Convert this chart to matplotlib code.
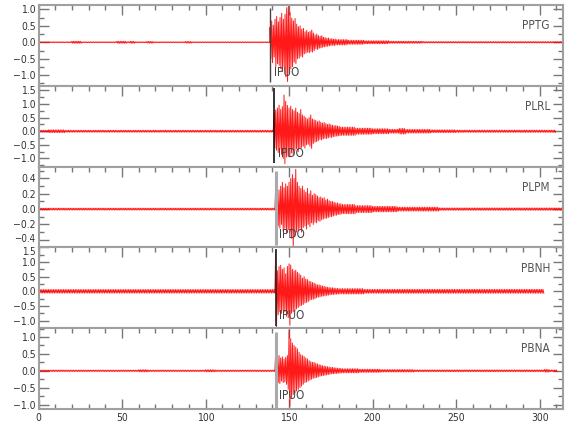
import numpy as np
import matplotlib
matplotlib.use("Agg")
import matplotlib.pyplot as plt
from matplotlib import font_manager
from matplotlib.ticker import MultipleLocator
from matplotlib.transforms import ScaledTranslation

fonts = font_manager.fontManager.ttflist
FAM = "Liberation Sans Narrow" if any(f.name == "Liberation Sans Narrow" for f in fonts) else "DejaVu Sans"
plt.rcParams["font.family"] = [FAM, "DejaVu Sans"]
plt.rcParams["font.stretch"] = "condensed"

# ---------------- data ----------------
stations = ["PPTG", "PLRL", "PLPM", "PBNH", "PBNA"]
pick_labels = ["IPUO", "IPDO", "IPDO", "IPUO", "IPUO"]
pick_times = [138.6, 141.0, 142.0, 142.0, 142.0]

# peak values at 1-s steps after the pick (positive / negative excursions)
ev_hi_pptg = [0.45, 0.65, 0.52, 0.70, 0.78, 0.62, 0.75, 0.88, 0.70, 0.85, 1.05, 1.12, 0.90, 0.73, 0.65, 0.72, 0.55, 0.47, 0.50, 0.40,
              0.42, 0.32, 0.36, 0.30, 0.33, 0.37, 0.28, 0.22, 0.25, 0.20, 0.18, 0.20, 0.15, 0.14, 0.12, 0.13, 0.10, 0.11, 0.09, 0.10]
ev_lo_pptg = [-0.50, -0.62, -0.45, -0.74, -0.65, -0.70, -0.80, -0.89, -0.75, -1.05, -1.19, -0.95, -0.80, -0.74, -0.60, -0.65, -0.50, -0.48, -0.42, -0.45,
              -0.35, -0.33, -0.30, -0.32, -0.28, -0.30, -0.25, -0.20, -0.22, -0.18, -0.17, -0.15, -0.14, -0.13, -0.12, -0.11, -0.10, -0.09, -0.10, -0.08]
ev_hi_plrl = [0.67, 0.78, 0.85, 0.96, 0.80, 0.90, 1.33, 1.10, 0.95, 0.85, 0.92, 0.80, 0.75, 0.85, 0.70, 0.65, 0.80, 0.60, 0.55, 0.50,
              0.45, 0.50, 0.60, 0.45, 0.42, 0.40, 0.35, 0.38, 0.33, 0.30, 0.32, 0.28, 0.25, 0.27, 0.24, 0.22, 0.20, 0.21, 0.19, 0.18]
ev_lo_plrl = [-0.63, -0.70, -0.78, -0.65, -0.85, -1.00, -1.19, -0.95, -0.90, -0.95, -0.80, -0.85, -0.70, -0.65, -0.75, -0.63, -0.60, -0.55, -0.62, -0.50,
              -0.48, -0.55, -0.63, -0.45, -0.40, -0.38, -0.35, -0.30, -0.32, -0.28, -0.26, -0.27, -0.24, -0.22, -0.23, -0.20, -0.19, -0.18, -0.17, -0.16]
ev_hi_plpm = [0.29, 0.22, 0.25, 0.30, 0.35, 0.28, 0.33, 0.30, 0.35, 0.40, 0.45, 0.40, 0.52, 0.35, 0.30, 0.27, 0.30, 0.25, 0.22, 0.27,
              0.20, 0.24, 0.18, 0.20, 0.19, 0.17, 0.15, 0.16, 0.14, 0.15, 0.12, 0.13, 0.11, 0.10, 0.10, 0.09, 0.08, 0.08, 0.07, 0.07]
ev_lo_plpm = [-0.12, -0.22, -0.25, -0.20, -0.29, -0.25, -0.31, -0.27, -0.30, -0.38, -0.49, -0.35, -0.30, -0.28, -0.25, -0.30, -0.24, -0.22, -0.26, -0.20,
              -0.23, -0.18, -0.20, -0.17, -0.18, -0.15, -0.16, -0.14, -0.13, -0.12, -0.12, -0.11, -0.10, -0.10, -0.09, -0.08, -0.08, -0.07, -0.07, -0.06]
ev_hi_pbnh = [1.40, 0.70, 0.85, 0.89, 0.75, 0.80, 0.60, 0.85, 0.94, 0.90, 0.75, 0.70, 0.72, 0.65, 0.60, 0.55, 0.45, 0.50, 0.42, 0.40,
              0.35, 0.33, 0.30, 0.28, 0.25, 0.22, 0.22, 0.20, 0.18, 0.17, 0.15, 0.14, 0.13, 0.12, 0.12, 0.11, 0.10, 0.10, 0.09, 0.09]
ev_lo_pbnh = [-1.22, -0.80, -0.70, -0.75, -0.65, -0.70, -0.85, -0.90, -1.16, -0.75, -0.70, -0.65, -0.60, -0.55, -0.50, -0.48, -0.45, -0.40, -0.38, -0.35,
              -0.30, -0.28, -0.27, -0.25, -0.22, -0.20, -0.19, -0.17, -0.16, -0.15, -0.14, -0.13, -0.12, -0.11, -0.11, -0.10, -0.10, -0.09, -0.09, -0.08]
ev_hi_pbna = [0.56, 0.42, 0.45, 0.38, 0.41, 0.35, 0.40, 0.45, 1.20, 0.95, 0.82, 0.75, 0.70, 0.65, 0.55, 0.48, 0.45, 0.42, 0.38, 0.35,
              0.30, 0.27, 0.25, 0.25, 0.22, 0.20, 0.18, 0.17, 0.15, 0.14, 0.13, 0.12, 0.11, 0.10, 0.10, 0.09, 0.08, 0.08, 0.07, 0.07]
ev_lo_pbna = [-0.42, -0.35, -0.38, -0.30, -0.35, -0.33, -0.40, -0.55, -1.06, -0.80, -0.70, -0.65, -0.60, -0.55, -0.50, -0.45, -0.40, -0.35, -0.33, -0.30,
              -0.27, -0.25, -0.22, -0.21, -0.20, -0.18, -0.16, -0.15, -0.14, -0.13, -0.12, -0.11, -0.10, -0.09, -0.09, -0.08, -0.08, -0.07, -0.07, -0.06]

# background (pre-event noise) level: breakpoints and amplitude per segment
pre_t_pptg = [0, 20, 26, 47, 53, 55, 58, 65, 69, 88, 92, 138.6]
pre_a_pptg = [0.012, 0.03, 0.012, 0.03, 0.015, 0.03, 0.012, 0.025, 0.012, 0.025, 0.012]
pre_t_plrl = [0, 6, 16, 141.0]
pre_a_plrl = [0.035, 0.05, 0.035]
pre_t_plpm = [0, 142.0]
pre_a_plpm = [0.012]
pre_t_pbnh = [0, 142.0]
pre_a_pbnh = [0.06]
pre_t_pbna = [0, 60, 66, 100, 106, 142.0]
pre_a_pbna = [0.02, 0.03, 0.02, 0.03, 0.02]

# coda level after the 40 s of read peaks
coda_t_pptg = [178.6, 185, 195, 210, 230, 314]
coda_a_pptg = [0.08, 0.06, 0.045, 0.03, 0.02]
coda_t_plrl = [181, 190, 200, 210, 216, 220, 235, 250, 310]
coda_a_plrl = [0.15, 0.11, 0.09, 0.07, 0.10, 0.065, 0.05, 0.04]
coda_t_plpm = [182, 190, 200, 215, 240, 314]
coda_a_plpm = [0.06, 0.045, 0.035, 0.025, 0.015]
coda_t_pbnh = [182, 195, 303]
coda_a_pbnh = [0.09, 0.065]
coda_t_pbna = [182, 192, 205, 225, 303, 306, 311]
coda_a_pbna = [0.06, 0.045, 0.035, 0.025, 0.04, 0.025]

ev_hi = [ev_hi_pptg, ev_hi_plrl, ev_hi_plpm, ev_hi_pbnh, ev_hi_pbna]
ev_lo = [ev_lo_pptg, ev_lo_plrl, ev_lo_plpm, ev_lo_pbnh, ev_lo_pbna]
pre_t = [pre_t_pptg, pre_t_plrl, pre_t_plpm, pre_t_pbnh, pre_t_pbna]
pre_a = [pre_a_pptg, pre_a_plrl, pre_a_plpm, pre_a_pbnh, pre_a_pbna]
coda_t = [coda_t_pptg, coda_t_plrl, coda_t_plpm, coda_t_pbnh, coda_t_pbna]
coda_a = [coda_a_pptg, coda_a_plrl, coda_a_plpm, coda_a_pbnh, coda_a_pbna]

ylims = [(-1.32, 1.13), (-1.30, 1.67), (-0.50, 0.555), (-1.26, 1.50), (-1.13, 1.26)]
ymajor = [0.5, 0.5, 0.2, 0.5, 0.5]
yminor = [0.25, 0.25, 0.1, 0.25, 0.25]
pick_span = [(1.04, -1.20), (1.60, -1.15), (0.50, -0.47), (1.45, -1.20), (1.15, -1.10)]
pick_color = ["#444444", "#111111", "#aaaaaa", "#222222", "#aaaaaa"]
pick_lw = [1.0, 1.2, 2.2, 1.2, 2.2]

# ---------------- helpers ----------------
def band(ts, amps, step=0.5):
    xs, ys = [], []
    sign = 1
    for a, b, amp in zip(ts[:-1], ts[1:], amps):
        for t in np.arange(a, b, step):
            xs.append(t)
            ys.append(sign * amp)
            sign = -sign
    return xs, ys

def trace(i):
    x1, y1 = band(pre_t[i], pre_a[i])
    x2, y2 = [], []
    t0 = pick_times[i]
    for k, (hv, lv) in enumerate(zip(ev_hi[i], ev_lo[i])):
        x2 += [t0 + k, t0 + k + 0.5]
        y2 += [hv, lv]
    x3, y3 = band(coda_t[i], coda_a[i])
    return np.array(x1 + x2 + x3), np.array(y1 + y2 + y3)

def fmt(v, p):
    s = f"{v:.1f}"
    if s == "-0.0":
        s = "0.0"
    return s.replace("-", "\u2212")

# ---------------- figure ----------------
fig = plt.figure(figsize=(5.8, 4.4), dpi=100)
left, right, top, bottom = 38.5 / 580, 563 / 580, 1 - 5 / 440, 1 - 409 / 440
h = (top - bottom) / 5
spine_c = "#a0a0a0"
tick_c = "#777777"
txt_c = "#333333"

axes = []
for i in range(5):
    ax = fig.add_axes([left, top - (i + 1) * h, right - left, h])
    axes.append(ax)
    x, y = trace(i)
    ax.plot(x, y, color="#ff0000", lw=0.7, alpha=0.9)
    ax.set_xlim(0, 314)
    ax.set_ylim(*ylims[i])
    ax.vlines(pick_times[i], pick_span[i][1], pick_span[i][0], color=pick_color[i], lw=pick_lw[i])
    ax.text(pick_times[i] + 2.2, 0.118, pick_labels[i], transform=ax.get_xaxis_transform(),
            fontsize=8.5, color="#444444", va="baseline", ha="left")
    ax.text(0.975, 0.70, stations[i], transform=ax.transAxes, fontsize=8.5, color="#555555",
            ha="right", va="baseline")
    for s in ax.spines.values():
        s.set_color(spine_c)
        s.set_linewidth(1.5)
    ax.xaxis.set_major_locator(MultipleLocator(50))
    ax.xaxis.set_minor_locator(MultipleLocator(10))
    ax.yaxis.set_major_locator(MultipleLocator(ymajor[i]))
    ax.yaxis.set_minor_locator(MultipleLocator(yminor[i]))
    last = i == 4
    ax.tick_params(axis="x", which="both", direction="in", top=True, bottom=last,
                   labelbottom=last, colors=tick_c, labelcolor=txt_c, labelsize=7.5, pad=3)
    ax.tick_params(axis="y", which="both", direction="in", left=True, right=True,
                   colors=tick_c, labelcolor=txt_c, labelsize=7.5, pad=2)
    ax.tick_params(which="major", length=7, width=1)
    ax.tick_params(which="minor", length=3.5, width=1)
    ax.yaxis.set_major_formatter(matplotlib.ticker.FuncFormatter(fmt))

# nudge the two crowded labels at the PLPM/PBNH boundary apart slightly
fig.canvas.draw()
for ax, target, dy in [(axes[2], -0.4, 1.5), (axes[3], 1.5, -2.5)]:
    for tick in ax.yaxis.get_major_ticks():
        if abs(tick.get_loc() - target) < 1e-6:
            lab = tick.label1
            lab.set_transform(lab.get_transform() + ScaledTranslation(0, dy / 72, fig.dpi_scale_trans))
            lab.set_fontsize(7)

fig.savefig("out.png", dpi=100)
